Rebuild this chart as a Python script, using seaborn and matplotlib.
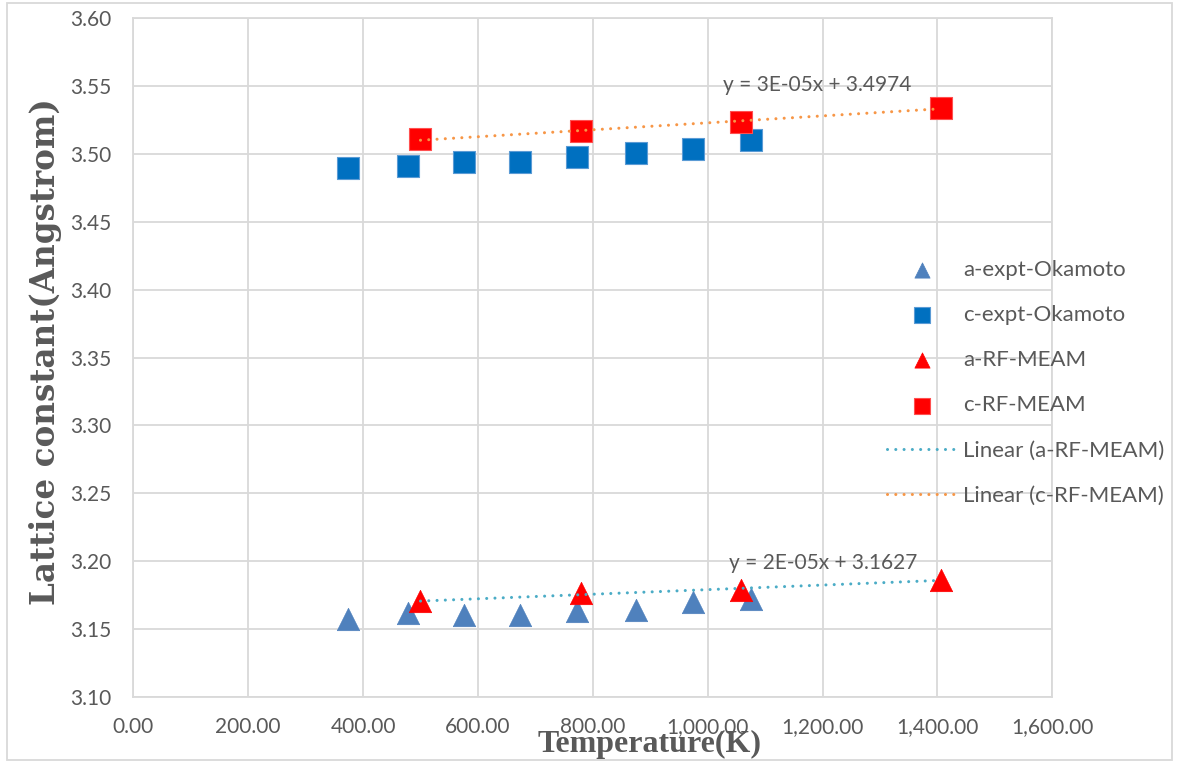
import numpy as np
import pandas as pd
import matplotlib
matplotlib.use("Agg")
import matplotlib.pyplot as plt
import seaborn as sns
from matplotlib.patches import Rectangle

# ---- data ----
T_expt = [373, 478, 575, 673, 773, 875, 975, 1075]
a_expt = [3.1574, 3.1623, 3.1608, 3.1608, 3.1638, 3.1639, 3.1703, 3.1720]
c_expt = [3.4892, 3.4909, 3.4941, 3.4941, 3.4973, 3.5005, 3.5037, 3.5101]
T_rf = [500, 779, 1058, 1406]
a_rf = [3.1705, 3.1765, 3.1791, 3.1864]
c_rf = [3.5105, 3.5167, 3.5230, 3.5338]
eq_a = "y = 2E-05x + 3.1627"
eq_c = "y = 3E-05x + 3.4974"
x_ticks = [0, 200, 400, 600, 800, 1000, 1200, 1400, 1600]
y_ticks = [3.10, 3.15, 3.20, 3.25, 3.30, 3.35, 3.40, 3.45, 3.50, 3.55, 3.60]

sns.set_style("white")
plt.rcParams['font.family'] = ['Lato', 'DejaVu Sans']

GREY_TXT = "#595959"
GRID = "#D9D9D9"

fig = plt.figure(figsize=(11.8, 7.62), dpi=100)
ax = fig.add_axes([133.3/1180, 1-697.3/762, (1052.3-133.3)/1180, (697.3-17.7)/762])

ax.set_xlim(0, 1600)
ax.set_ylim(3.10, 3.60)
ax.set_xticks(x_ticks)
ax.set_yticks(y_ticks)
ax.set_xticklabels([f"{v:,.2f}" for v in x_ticks])
ax.set_yticklabels([f"{v:.2f}" for v in y_ticks])
ax.grid(True, color=GRID, lw=1.3, zorder=0)
ax.set_axisbelow(True)
for s in ax.spines.values():
    s.set_color(GRID)
    s.set_linewidth(1.3)
ax.tick_params(axis='both', length=0, labelsize=15, labelcolor=GREY_TXT)
ax.tick_params(axis='x', pad=14)
ax.tick_params(axis='y', pad=16)

S = 260
df_e = pd.DataFrame({"T": T_expt, "a": a_expt, "c": c_expt})
df_r = pd.DataFrame({"T": T_rf, "a": a_rf, "c": c_rf})

sns.scatterplot(data=df_e, x="T", y="a", marker="^", s=S, color="#4F81BD",
                edgecolor="#4F81BD", linewidth=0.5, label="a-expt-Okamoto", ax=ax, zorder=3)
sns.scatterplot(data=df_e, x="T", y="c", marker="s", s=S, color="#0070C0",
                edgecolor="#5B9BD5", linewidth=0.8, label="c-expt-Okamoto", ax=ax, zorder=3)
sns.scatterplot(data=df_r, x="T", y="a", marker="^", s=S, color="#FF0000",
                edgecolor="#FF0000", linewidth=0.5, label="a-RF-MEAM", ax=ax, zorder=4)
sns.scatterplot(data=df_r, x="T", y="c", marker="s", s=S, color="#FF0000",
                edgecolor="#FF5050", linewidth=0.8, label="c-RF-MEAM", ax=ax, zorder=4)

# linear trend lines
xr = np.array([min(T_rf), max(T_rf)], dtype=float)
pa = np.polyfit(T_rf, a_rf, 1)
pc = np.polyfit(T_rf, c_rf, 1)
df_ta = pd.DataFrame({"T": xr, "y": np.polyval(pa, xr)})
df_tc = pd.DataFrame({"T": xr, "y": np.polyval(pc, xr)})
dot = (0, (0.01, 2.7))
sns.lineplot(data=df_ta, x="T", y="y", color="#4BACC6", lw=2.2, label="Linear (a-RF-MEAM)", ax=ax, zorder=5)
ax.lines[-1].set_linestyle(dot)
ax.lines[-1].set_dash_capstyle('round')
sns.lineplot(data=df_tc, x="T", y="y", color="#F79646", lw=2.2, label="Linear (c-RF-MEAM)", ax=ax, zorder=5)
ax.lines[-1].set_linestyle(dot)
ax.lines[-1].set_dash_capstyle('round')

ax.text(1190, 3.5505, eq_c, ha="center", va="center", fontsize=15, color=GREY_TXT, zorder=6)
ax.text(1201, 3.1990, eq_a, ha="center", va="center", fontsize=15, color=GREY_TXT, zorder=6)

ax.set_xlabel("Temperature(K)", fontsize=23, fontweight="bold", color=GREY_TXT,
              family=["Liberation Serif", "DejaVu Serif"])
ax.xaxis.set_label_coords((650-133.3)/919, -(752-697.3)/679.6, transform=ax.transAxes)
ax.xaxis.label.set_va("baseline")
ax.set_ylabel("Lattice constant(Angstrom)", fontsize=23.5, fontweight="bold", color=GREY_TXT,
              family=["DejaVu Serif"])
ax.yaxis.set_label_coords(-(133.3-46)/919, (697.3-352)/679.6, transform=ax.transAxes)
ax.yaxis.label.set_va("center")

leg = ax.legend(loc="upper left", bbox_to_anchor=(886.7/1180, 1-260/762),
                bbox_transform=fig.transFigure, frameon=False, fontsize=16,
                markerscale=0.68, handlelength=3.15, handletextpad=0.3,
                labelspacing=1.13, borderpad=0, borderaxespad=0)
for t in leg.get_texts():
    t.set_color(GREY_TXT)

fig.patches.append(Rectangle((7/1180, 2/762), 1165/1180, 757/762, transform=fig.transFigure,
                             fill=False, edgecolor=GRID, lw=1.3))

fig.savefig("out.png", dpi=100)
